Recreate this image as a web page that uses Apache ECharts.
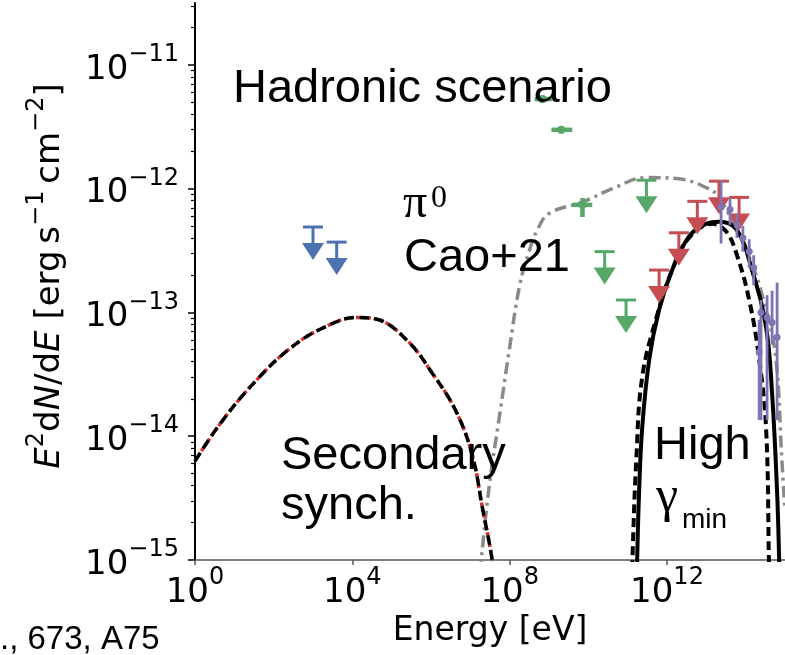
<!DOCTYPE html>
<html>
<head>
<meta charset="utf-8">
<script src="https://cdn.jsdelivr.net/npm/echarts@6/dist/echarts.min.js"></script>
<style>
  html, body { margin: 0; padding: 0; background: #fff; }
  #chart { width: 785px; height: 655px; }
</style>
</head>
<body>
<div id="chart"></div>
<script>
// axis ticks
const xTicks = [1, 1e4, 1e8, 1e12];
const yTicks = [1e-15, 1e-14, 1e-13, 1e-12, 1e-11];
const yMinorMult = [2, 3, 4, 5, 6, 7, 8, 9];
const yMinorDecades = [1e-16, 1e-15, 1e-14, 1e-13, 1e-12, 1e-11];

// model curves: [E (eV), E^2 dN/dE (erg s^-1 cm^-2)]
const synchCurve = [
  [1, 6.3e-15], [5.1, 1.35e-14], [37, 2.85e-14], [257, 5.1e-14], [1.8e3, 7.5e-14],
  [1.3e4, 9.1e-14], [4.2e4, 8.8e-14], [2.4e5, 6.0e-14], [1.1e6, 3.2e-14],
  [4.5e6, 1.55e-14], [1.15e7, 6.8e-15], [2.0e7, 2.7e-15], [3.5e7, 1.05e-15], [4.2e7, 6e-16]
];
const pi0Curve = [
  [1.66e7, 5e-16], [1.9e7, 1.0e-15], [3.1e7, 4.2e-15], [5.5e7, 1.45e-14], [9.8e7, 5.0e-14],
  [1.8e8, 1.66e-13], [3.2e8, 3.2e-13], [5.0e8, 4.6e-13], [1.0e9, 6.3e-13], [7.1e9, 7.8e-13],
  [4.1e10, 1.0e-12], [3.0e11, 1.23e-12], [2.0e12, 1.2e-12], [1.0e13, 1.02e-12], [2.1e13, 8.5e-13],
  [1.23e14, 2.8e-13], [3.3e14, 1.05e-13], [5.9e14, 4.2e-14], [8.3e14, 6.5e-15], [1e15, 2.5e-15]
];
const highGammaSolid = [
  [1.66e11, 5e-16], [1.74e11, 1e-15], [1.95e11, 3.5e-15], [2.34e11, 1.17e-14], [3.55e11, 4.2e-14],
  [6.3e11, 1.05e-13], [1.35e12, 2.2e-13], [3.6e12, 4.1e-13], [8.7e12, 5.1e-13], [2.1e13, 5.4e-13],
  [5.8e13, 4.7e-13], [1.45e14, 2.2e-13], [3.3e14, 7.6e-14], [4.7e14, 2.2e-14], [6.3e14, 3.5e-15],
  [7.1e14, 1e-15], [7.4e14, 5e-16]
];
const highGammaDashed = [
  [1.26e11, 5e-16], [1.32e11, 1e-15], [1.66e11, 6.5e-15], [2.34e11, 3.0e-14], [5.4e11, 9.1e-14],
  [1.35e12, 2.2e-13], [3.6e12, 4.0e-13], [1.41e13, 5.2e-13], [3.2e13, 4.5e-13], [5.8e13, 3.0e-13],
  [1.23e14, 1.26e-13], [2.2e14, 4.2e-14], [3.3e14, 1.17e-14], [3.9e14, 1e-15], [4.0e14, 5e-16]
];

// upper limits: [E, value]
const xrayUL = [[1.0e3, 4.9e-13], [4.0e3, 3.7e-13]];
const fermiUL = [[2.6e10, 3.1e-13], [9.1e10, 1.26e-13], [3.0e11, 1.17e-12]];
const wcdaUL = [[6.3e11, 2.2e-13], [2.0e12, 4.4e-13], [5.9e12, 7.9e-13], [2.1e13, 1.15e-12], [6.8e13, 8.5e-13]];

// points with errors: [E, F, Elo, Ehi, Flo, Fhi]
const fermiPts = [
  [6.8e8, 5.3e-12, 4.3e8, 1.23e9, 4.95e-12, 5.65e-12],
  [2.05e9, 2.99e-12, 1.15e9, 3.9e9, 2.8e-12, 3.2e-12],
  [7.1e9, 7.4e-13, 3.9e9, 1.26e10, 5.9e-13, 8.4e-13]
];
const km2aPts = [
  [2.37e13, 7.1e-13, 2.2e13, 2.55e13, 3.6e-13, 1.17e-12],
  [4.0e13, 6.8e-13, 3.7e13, 4.3e13, 5.1e-13, 8.4e-13],
  [6.0e13, 5.1e-13, 5.6e13, 6.4e13, 4.0e-13, 6.3e-13],
  [8.5e13, 4.0e-13, 7.9e13, 9.1e13, 3.1e-13, 5.0e-13],
  [1.23e14, 3.1e-13, 1.15e14, 1.32e14, 2.3e-13, 3.9e-13],
  [1.6e14, 2.3e-13, 1.5e14, 1.7e14, 1.66e-13, 2.9e-13],
  [2.45e14, 1.0e-13, 2.3e14, 2.6e14, 1.35e-14, 1.26e-13],
  [3.5e14, 9.1e-14, 3.3e14, 3.7e14, 1.35e-14, 1.38e-13],
  [4.7e14, 8.3e-14, 4.4e14, 5.0e14, 5.5e-14, 1.5e-13],
  [6.3e14, 6.3e-14, 5.9e14, 6.7e14, 1.35e-14, 1.74e-13],
  [2.2e14, 4.8e-14, 2.05e14, 2.35e14, 1.35e-14, 8.7e-14]
];

const yMinor = [];
yMinorDecades.forEach(d => yMinorMult.forEach(m => yMinor.push(d * m)));

const blue = '#4c72b0', green = '#55a868', red = '#c44e52', purple = '#8172b2';
const sans = 'DejaVu Sans';

function powLabel(v) {
  const e = Math.round(Math.log10(v));
  return '{b|10}{e|' + (e < 0 ? '\u2212' + (-e) : e) + '}';
}
const tickRich = {
  b: { fontFamily: sans, fontSize: 34, lineHeight: 44, verticalAlign: 'bottom', color: '#000' },
  e: { fontFamily: sans, fontSize: 24, lineHeight: 22, verticalAlign: 'top', color: '#000' }
};

// upper limit: cap, stem and arrow head
function ulRender(color) {
  return function (params, api) {
    const p = api.coord([api.value(0), api.value(1)]);
    const x = p[0], y = p[1];
    return {
      type: 'group',
      children: [
        { type: 'line', shape: { x1: x - 10, y1: y, x2: x + 10, y2: y }, style: { stroke: color, lineWidth: 3 } },
        { type: 'line', shape: { x1: x, y1: y, x2: x, y2: y + 18 }, style: { stroke: color, lineWidth: 3 } },
        { type: 'polygon', shape: { points: [[x - 11, y + 16], [x + 11, y + 16], [x, y + 33]] }, style: { fill: color } }
      ]
    };
  };
}

// data point with x and y error bars
function errRender(color, width, r) {
  return function (params, api) {
    const c = api.coord([api.value(0), api.value(1)]);
    const l = api.coord([api.value(2), api.value(1)]);
    const rr = api.coord([api.value(3), api.value(1)]);
    const b = api.coord([api.value(0), api.value(4)]);
    const t = api.coord([api.value(0), api.value(5)]);
    return {
      type: 'group',
      children: [
        { type: 'line', shape: { x1: l[0], y1: c[1], x2: rr[0], y2: c[1] }, style: { stroke: color, lineWidth: width } },
        { type: 'line', shape: { x1: c[0], y1: b[1], x2: c[0], y2: t[1] }, style: { stroke: color, lineWidth: width } },
        { type: 'circle', shape: { cx: c[0], cy: c[1], r: r }, style: { fill: color } }
      ]
    };
  };
}

function curve(data, color, width, dash, z) {
  return {
    type: 'line', data: data, symbol: 'none', smooth: 0.4, z: z,
    lineStyle: { color: color, width: width, type: dash },
    silent: true, animation: false
  };
}

function custom(data, render, z) {
  return {
    type: 'custom', data: data, renderItem: render, z: z, clip: true,
    encode: { x: 0, y: 1 }, silent: true, animation: false
  };
}

const chart = echarts.init(document.getElementById('chart'));
chart.setOption({
  animation: false,
  backgroundColor: '#fff',
  grid: { left: 195, right: 0, top: 3, bottom: 95 },
  xAxis: {
    type: 'log', min: 1, max: 1e15,
    name: 'Energy [eV]', nameLocation: 'middle', nameGap: 51,
    nameTextStyle: { fontFamily: sans, fontSize: 33, color: '#000' },
    axisLine: { lineStyle: { color: '#555', width: 1.5 } },
    axisTick: { customValues: xTicks, length: 5, lineStyle: { color: '#555', width: 1.5 } },
    axisLabel: { customValues: xTicks, margin: 6, formatter: powLabel, rich: tickRich },
    splitLine: { show: false }, minorTick: { show: false }
  },
  yAxis: [{
    type: 'log', min: 1e-15, max: 3.162e-11,
    axisLine: { lineStyle: { color: '#000', width: 2 } },
    axisTick: { customValues: yTicks, length: 7, lineStyle: { color: '#000', width: 1.5 } },
    axisLabel: { customValues: yTicks, margin: 16, formatter: powLabel, rich: tickRich },
    splitLine: { show: false }
  }, {
    type: 'log', min: 1e-15, max: 3.162e-11, position: 'left',
    axisLine: { show: false },
    axisTick: { customValues: yMinor, length: 4, lineStyle: { color: '#000', width: 1.2 } },
    axisLabel: { show: false },
    splitLine: { show: false }
  }],
  series: [
    curve(pi0Curve, '#8a8a8a', 3.5, [12, 5, 3, 5], 2),
    curve(synchCurve, '#e02a2a', 3.5, [3, 3], 2),
    curve(synchCurve, '#000', 3.5, [10, 5], 3),
    curve(highGammaDashed, '#000', 4, [9, 5], 3),
    curve(highGammaSolid, '#000', 4, 'solid', 3),
    custom(xrayUL, ulRender(blue), 5),
    custom(fermiUL, ulRender(green), 5),
    custom(fermiPts, errRender(green, 4.5, 4), 5),
    custom(wcdaUL, ulRender(red), 5),
    custom(km2aPts, errRender(purple, 2.8, 3.5), 6)
  ],
  graphic: [
    { type: 'text', x: 233, y: 89, z: 10, style: { text: 'Hadronic scenario', font: '47px "Liberation Sans"', fill: '#000', verticalAlign: 'middle' } },
    { type: 'text', x: 403, y: 204, z: 10, style: { text: '\u03c0', font: '48px "Liberation Serif"', fill: '#000', verticalAlign: 'middle' } },
    { type: 'text', x: 431, y: 199, z: 10, style: { text: '0', font: '32px "Liberation Serif"', fill: '#000', verticalAlign: 'middle' } },
    { type: 'text', x: 404, y: 258, z: 10, style: { text: 'Cao+21', font: '47px "Liberation Sans"', fill: '#000', verticalAlign: 'middle' } },
    { type: 'text', x: 281, y: 456, z: 10, style: { text: 'Secondary', font: '47px "Liberation Sans"', fill: '#000', verticalAlign: 'middle' } },
    { type: 'text', x: 281, y: 506, z: 10, style: { text: 'synch.', font: '47px "Liberation Sans"', fill: '#000', verticalAlign: 'middle' } },
    { type: 'text', x: 654, y: 446, z: 10, style: { text: 'High', font: '47px "Liberation Sans"', fill: '#000', verticalAlign: 'middle' } },
    { type: 'text', x: 656, y: 498, z: 10, style: { text: '\u03b3', font: '50px "Liberation Serif"', fill: '#000', verticalAlign: 'middle' } },
    { type: 'text', x: 682, y: 520, z: 10, style: { text: 'min', font: '28px "Liberation Sans"', fill: '#000', verticalAlign: 'middle' } },
    { type: 'text', x: 0, y: 640, z: 10, style: { text: '., 673, A75', font: '33px "Liberation Sans"', fill: '#000', verticalAlign: 'middle' } },
    {
      type: 'text', x: 46, y: 276, rotation: Math.PI / 2, z: 10,
      style: {
        text: '{i|E}{s|2}{r|d}{i|N}{r|/d}{i|E}{r| [erg\u2009s}{s|\u22121}{r|\u2009cm}{s|\u22122}{r|]}',
        align: 'center', verticalAlign: 'middle', fill: '#000',
        rich: {
          i: { fontFamily: sans, fontStyle: 'italic', fontSize: 34, lineHeight: 42, verticalAlign: 'bottom' },
          r: { fontFamily: sans, fontSize: 34, lineHeight: 42, verticalAlign: 'bottom' },
          s: { fontFamily: sans, fontSize: 24, lineHeight: 24, verticalAlign: 'top' }
        }
      }
    }
  ]
});
</script>
</body>
</html>
